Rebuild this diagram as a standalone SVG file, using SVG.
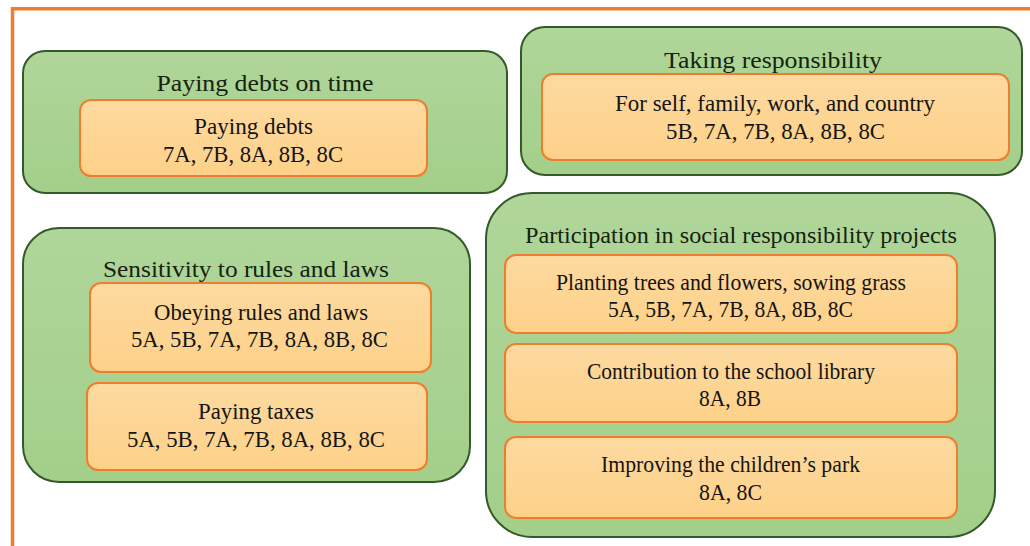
<svg xmlns="http://www.w3.org/2000/svg" width="1030" height="546" viewBox="0 0 1030 546">
  <defs>
    <linearGradient id="gGreen" x1="0" y1="0" x2="0" y2="1">
      <stop offset="0" stop-color="#b0d69a"/>
      <stop offset="1" stop-color="#a3cf8a"/>
    </linearGradient>
    <linearGradient id="gOrange" x1="0" y1="0" x2="0" y2="1">
      <stop offset="0" stop-color="#fddaa0"/>
      <stop offset="1" stop-color="#fdd189"/>
    </linearGradient>
    <style>
      .group { fill: url(#gGreen); stroke: #34592a; stroke-width: 2; }
      .item { fill: url(#gOrange); stroke: #ef7d2d; stroke-width: 2; }
      text { font-family: "Liberation Serif", "Times New Roman", serif; font-size: 23px; fill: #141414; text-anchor: middle; }
      .title { fill: #15230f; }
      .frame { fill: none; stroke: #ee7d31; stroke-width: 3.5; }
    </style>
  </defs>

  <rect width="1030" height="546" fill="#ffffff"/>
  <!-- page frame -->
  <path class="frame" d="M12.5 546 V8.8 H1030"/>

  <g id="connectors"/>

  <!-- Paying debts on time -->
  <g id="paying-debts-on-time">
    <rect class="group" x="23" y="51" width="484" height="142" rx="22"/>
    <text class="title" x="265" y="91" textLength="217" lengthAdjust="spacingAndGlyphs">Paying debts on time</text>
    <g id="paying-debts">
      <rect class="item" x="80" y="100" width="347" height="76" rx="11"/>
      <text x="253.5" y="134" textLength="119" lengthAdjust="spacingAndGlyphs">Paying debts</text>
      <text x="253" y="162" textLength="180" lengthAdjust="spacingAndGlyphs">7A, 7B, 8A, 8B, 8C</text>
    </g>
  </g>

  <!-- Taking responsibility -->
  <g id="taking-responsibility">
    <rect class="group" x="521" y="27" width="501" height="148" rx="24"/>
    <text class="title" x="773" y="68" textLength="218" lengthAdjust="spacingAndGlyphs">Taking responsibility</text>
    <g id="for-self-family">
      <rect class="item" x="542" y="74" width="467" height="86" rx="11"/>
      <text x="775" y="111" textLength="320" lengthAdjust="spacingAndGlyphs">For self, family, work, and country</text>
      <text x="775.5" y="139" textLength="219" lengthAdjust="spacingAndGlyphs">5B, 7A, 7B, 8A, 8B, 8C</text>
    </g>
  </g>

  <!-- Sensitivity to rules and laws -->
  <g id="sensitivity-to-rules">
    <rect class="group" x="23" y="228" width="447" height="254" rx="36"/>
    <text class="title" x="246" y="277" textLength="286" lengthAdjust="spacingAndGlyphs">Sensitivity to rules and laws</text>
    <g id="obeying-rules">
      <rect class="item" x="90" y="283" width="341" height="89" rx="11"/>
      <text x="261" y="320" textLength="214" lengthAdjust="spacingAndGlyphs">Obeying rules and laws</text>
      <text x="259.5" y="347" textLength="257" lengthAdjust="spacingAndGlyphs">5A, 5B, 7A, 7B, 8A, 8B, 8C</text>
    </g>
    <g id="paying-taxes">
      <rect class="item" x="87" y="383" width="340" height="87" rx="11"/>
      <text x="256" y="419" textLength="116" lengthAdjust="spacingAndGlyphs">Paying taxes</text>
      <text x="256" y="447" textLength="258" lengthAdjust="spacingAndGlyphs">5A, 5B, 7A, 7B, 8A, 8B, 8C</text>
    </g>
  </g>

  <!-- Participation in social responsibility projects -->
  <g id="social-responsibility-projects">
    <rect class="group" x="486" y="193" width="509" height="344" rx="46"/>
    <text class="title" x="741" y="243" textLength="432" lengthAdjust="spacingAndGlyphs">Participation in social responsibility projects</text>
    <g id="planting-trees">
      <rect class="item" x="505" y="255" width="452" height="78" rx="11"/>
      <text x="731" y="290" textLength="350" lengthAdjust="spacingAndGlyphs">Planting trees and flowers, sowing grass</text>
      <text x="730.5" y="317" textLength="245" lengthAdjust="spacingAndGlyphs">5A, 5B, 7A, 7B, 8A, 8B, 8C</text>
    </g>
    <g id="school-library">
      <rect class="item" x="505" y="344" width="452" height="78" rx="11"/>
      <text x="731" y="379" textLength="288" lengthAdjust="spacingAndGlyphs">Contribution to the school library</text>
      <text x="730" y="406" textLength="62" lengthAdjust="spacingAndGlyphs">8A, 8B</text>
    </g>
    <g id="childrens-park">
      <rect class="item" x="505" y="437" width="452" height="81" rx="11"/>
      <text x="730.5" y="472" textLength="259" lengthAdjust="spacingAndGlyphs">Improving the children’s park</text>
      <text x="730.5" y="500" textLength="63" lengthAdjust="spacingAndGlyphs">8A, 8C</text>
    </g>
  </g>
</svg>
